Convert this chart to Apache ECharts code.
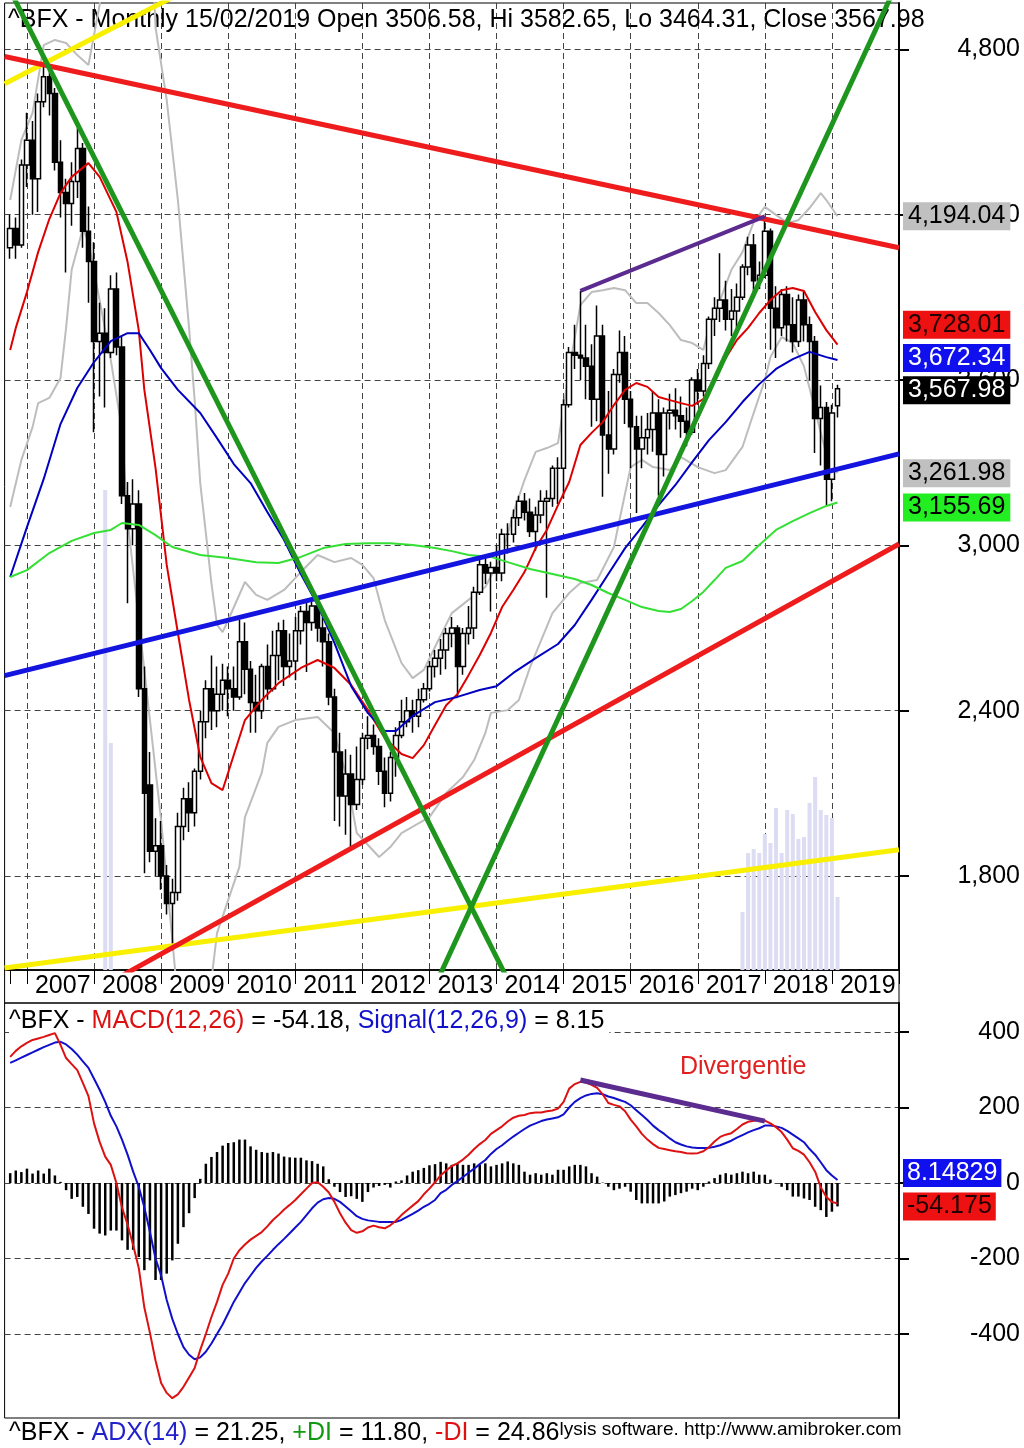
<!DOCTYPE html>
<html><head><meta charset="utf-8">
<script src="https://cdn.jsdelivr.net/npm/echarts@6/dist/echarts.min.js"></script>
<style>html,body{margin:0;padding:0;background:#fff}#c{width:1024px;height:1448px}</style>
</head><body><div id="c"></div>
<script>
// ---------- DATA (monthly, Oct 2006 .. Feb 2019; index m = months since Oct 2006) ----------
const opens = [4080,4150,4090,4380,4470,4330,4610,4700,4640,4390,
4280,4240,4320,4440,4140,4030,3740,3770,3700,3930,
3720,3180,3060,3150,2480,2130,1890,1910,1800,1700,
1740,1980,2080,2030,2180,2360,2480,2400,2460,2510,
2480,2450,2650,2550,2430,2400,2560,2480,2600,2690,
2560,2580,2690,2760,2720,2780,2700,2650,2450,2250,
2090,2170,2060,2150,2300,2310,2270,2180,2100,2230,
2310,2360,2400,2380,2440,2480,2560,2590,2620,2680,
2700,2560,2680,2700,2830,2930,2900,2920,2900,3040,
3040,3100,3160,3120,3050,3110,3160,3170,3280,3280,
3510,3700,3690,3680,3650,3530,3760,3400,3350,3620,
3700,3530,3430,3350,3390,3420,3480,3330,3480,3490,
3470,3450,3410,3600,3560,3660,3820,3860,3890,3820,
3850,3900,4010,4090,3960,3980,4140,3860,3790,3910,
3800,3740,3890,3800,3740,3460,3500,3240,3506.58];
const highs = [4200,4190,4400,4570,4540,4640,4755,4745,4660,4470,
4330,4390,4515,4460,4230,4100,3880,3860,3980,3990,
3760,3230,3240,3200,2560,2250,2010,2000,1840,1790,
2030,2120,2140,2190,2400,2510,2600,2560,2570,2560,
2560,2730,2720,2580,2530,2570,2640,2690,2720,2730,
2680,2740,2780,2800,2810,2810,2740,2680,2480,2320,
2260,2240,2270,2320,2380,2350,2300,2230,2250,2340,
2440,2450,2440,2480,2500,2580,2620,2660,2700,2740,
2710,2700,2780,2850,2950,2960,2940,3000,3060,3080,
3130,3180,3190,3170,3140,3200,3200,3290,3320,3530,
3720,3800,3923,3800,3730,3870,3800,3560,3640,3780,
3760,3560,3470,3470,3480,3560,3530,3500,3550,3570,
3540,3500,3610,3640,3690,3830,3900,4060,3960,3930,
3950,4020,4120,4130,4030,4194,4150,3940,3930,3940,
3900,3910,3920,3830,3760,3580,3520,3510,3582.65];
const lows = [4040,4040,4080,4300,4200,4210,4590,4560,4360,4190,
3990,4160,4260,4080,3880,3410,3540,3500,3680,3690,
3150,2790,3000,2450,1810,1850,1800,1750,1660,1531,
1710,1930,1960,1980,2150,2300,2330,2340,2400,2380,
2400,2440,2460,2320,2320,2370,2440,2470,2510,2490,
2520,2510,2640,2540,2690,2650,2560,2420,2000,1980,
1950,1905,2040,2130,2260,2240,2130,2050,2070,2160,
2300,2340,2320,2340,2430,2470,2520,2530,2550,2630,
2450,2530,2640,2660,2820,2860,2760,2870,2870,2970,
3010,3070,3090,3030,2980,3080,2810,3140,3150,3170,
3500,3640,3600,3530,3430,3450,3176,3260,3330,3590,
3440,3280,3117,3280,3330,3340,3180,3250,3420,3420,
3390,3360,3400,3510,3540,3640,3760,3810,3780,3760,
3790,3890,3980,3900,3930,3970,3710,3680,3760,3740,
3700,3720,3740,3600,3335,3290,3146,3160,3464.31];
const closes = [4150,4090,4380,4470,4330,4610,4700,4640,4390,4280,
4240,4320,4440,4140,4030,3740,3770,3700,3930,3720,
3180,3060,3150,2480,2100,1890,1910,1800,1700,1740,
1980,2080,2030,2180,2360,2480,2400,2460,2510,2480,
2450,2650,2550,2430,2400,2560,2480,2600,2690,2560,
2580,2690,2760,2720,2780,2700,2650,2450,2250,2090,
2170,2060,2150,2300,2310,2270,2180,2100,2230,2310,
2360,2400,2380,2440,2480,2560,2590,2620,2680,2700,
2560,2680,2700,2830,2930,2900,2920,2900,3040,3040,
3100,3160,3120,3050,3110,3160,3170,3280,3280,3510,
3700,3690,3680,3650,3530,3760,3400,3350,3620,3700,
3530,3430,3350,3390,3420,3480,3330,3480,3490,3470,
3450,3410,3600,3560,3660,3820,3860,3890,3820,3850,
3900,4010,4090,3960,3980,4140,3860,3790,3910,3800,
3740,3890,3800,3740,3460,3500,3240,3480,3567.98];

// moving averages / bands, read at sample months: [m, value]
const maRed = [[0,3709],[1,3789],[3,3919],[5,4064],[7,4184],[9,4278],[11,4337],[14,4387],[16,4337],[19,4210],[21,4028],[23,3781],[24,3564],[26,3281],[28,2929],[30,2682],[32,2439],[34,2232],[36,2137],[38,2112],[40,2239],[42,2366],[45,2439],[48,2500],[52,2555],[55,2584],[58,2555],[61,2493],[64,2402],[67,2301],[70,2243],[72,2228],[74,2275],[76,2348],[78,2420],[80,2460],[82,2529],[84,2602],[86,2682],[88,2776],[90,2838],[92,2903],[94,2990],[96,3056],[98,3146],[100,3230],[102,3364],[104,3408],[106,3447],[108,3509],[110,3564],[112,3589],[114,3575],[116,3538],[118,3527],[120,3516],[122,3506],[124,3531],[126,3607],[128,3680],[130,3745],[132,3789],[134,3843],[136,3890],[138,3926],[140,3934],[142,3923],[144,3847],[146,3781],[148,3728.01]];
const maBlue = [[0,2885],[3,3066],[6,3241],[9,3440],[12,3571],[15,3665],[18,3741],[21,3770],[23,3770],[25,3709],[27,3643],[30,3564],[34,3480],[37,3389],[40,3295],[43,3226],[46,3121],[49,3019],[52,2896],[55,2783],[58,2646],[61,2489],[64,2391],[67,2326],[69,2326],[72,2381],[76,2431],[80,2450],[84,2475],[87,2489],[90,2537],[94,2591],[98,2642],[101,2711],[104,2802],[107,2896],[110,2990],[113,3066],[116,3146],[119,3219],[122,3302],[125,3382],[128,3447],[131,3520],[134,3585],[137,3640],[140,3676],[143,3702],[146,3683],[148,3672.34]];
const maGreen = [[0,2885],[3,2910],[7,2972],[11,3016],[15,3045],[18,3056],[20,3081],[23,3074],[26,3037],[29,2994],[34,2965],[39,2954],[44,2939],[48,2936],[52,2958],[56,2990],[60,3005],[64,3008],[68,3008],[72,3001],[76,2990],[79,2979],[82,2965],[86,2958],[89,2939],[93,2914],[97,2896],[101,2878],[104,2856],[107,2827],[110,2802],[113,2776],[116,2762],[118,2758],[120,2769],[122,2798],[124,2831],[126,2874],[128,2918],[131,2943],[134,3001],[137,3056],[140,3088],[143,3117],[146,3143],[148,3155.69]];
const bbUpper = [[0,4253],[2,4471],[4,4569],[6,4815],[8,4834],[10,4823],[12,4779],[14,4743],[16,4961],[17,5124],[19,5450],[21,5700],[23,5700],[25,5350],[26,4880],[28,4616],[30,4253],[32,3789],[33,3527],[34,3226],[35,3045],[36,2863],[37,2711],[38,2685],[39,2729],[42,2867],[44,2820],[46,2802],[49,2838],[52,2903],[55,2965],[58,2939],[61,2954],[63,2929],[65,2881],[67,2729],[70,2573],[72,2518],[74,2548],[76,2631],[79,2754],[82,2802],[85,2849],[88,2965],[90,3117],[92,3237],[94,3339],[96,3353],[98,3371],[100,3636],[102,3872],[104,3919],[106,3926],[108,3934],[110,3926],[112,3879],[114,3879],[116,3843],[118,3799],[120,3745],[122,3734],[124,3709],[125,3792],[127,3890],[129,3999],[131,4064],[133,4173],[135,4228],[137,4199],[139,4170],[141,4180],[143,4224],[145,4278],[146,4253],[148,4194.04]];
const bbLower = [[0,3139],[2,3310],[4,3429],[5,3516],[7,3535],[9,3607],[10,3789],[11,4000],[13,4150],[14,4100],[16,3890],[18,3672],[20,3418],[21,3092],[23,2729],[25,2366],[27,2003],[29,1568],[30,1350],[32,1150],[34,1200],[36,1423],[37,1593],[41,1833],[42,2014],[45,2174],[46,2283],[48,2341],[51,2366],[55,2377],[58,2319],[60,2174],[62,1956],[66,1869],[68,1905],[70,1956],[75,2014],[78,2101],[81,2159],[83,2221],[85,2319],[86,2392],[89,2402],[91,2439],[93,2558],[95,2656],[97,2754],[100,2827],[102,2863],[105,2874],[108,2994],[109,3092],[111,3284],[113,3310],[115,3284],[118,3273],[120,3320],[123,3284],[126,3262],[128,3273],[131,3357],[133,3480],[135,3600],[136,3683],[138,3756],[140,3734],[142,3650],[144,3490],[146,3330],[148,3261.98]];

// volume (only visible months), [month label, volume]
const volume = [['2008-03',480],['2008-04',227],['2017-09',58],['2017-10',117],['2017-11',121],['2017-12',117],['2018-01',136],['2018-02',127],['2018-03',162],['2018-04',117],['2018-05',160],['2018-06',156],['2018-07',131],['2018-08',133],['2018-09',167],['2018-10',193],['2018-11',160],['2018-12',155],['2019-01',152],['2019-02',73]];

// MACD(12,26), Signal(12,26,9), histogram
const macd = [334,350,362,371,379,383,387,392,397,366,
331,315,299,265,230,158,109,70,48,0,
-65,-110,-165,-225,-330,-397,-470,-530,-556,-570,
-560,-540,-515,-490,-442,-400,-355,-315,-270,-240,
-200,-178,-163,-150,-140,-130,-115,-98,-85,-70,
-58,-45,-30,-15,0,2,-10,-25,-50,-80,
-105,-125,-132,-128,-118,-113,-117,-120,-112,-100,
-85,-72,-60,-48,-30,-15,2,20,33,45,
52,62,75,90,103,114,130,140,150,163,
173,178,180,185,187,187,190,192,197,215,
250,262,268,266,260,252,235,212,207,203,
190,168,150,130,115,103,93,90,87,84,
82,79,78,79,84,95,110,122,128,132,
143,155,162,165,167,165,158,148,135,115,
92,85,75,55,30,-11,-37,-50,-54.18];
const signal = [318,325,332,339,346,353,360,366,372,374,
367,355,340,322,305,276,247,215,178,150,
115,75,30,-10,-65,-130,-200,-245,-310,-360,
-400,-435,-455,-467,-462,-447,-425,-400,-375,-345,
-315,-290,-265,-245,-225,-208,-193,-177,-162,-148,
-133,-118,-103,-85,-67,-52,-43,-40,-42,-50,
-62,-75,-88,-95,-99,-101,-103,-103,-103,-103,
-98,-90,-82,-73,-63,-55,-45,-27,-18,-5,
5,16,27,38,50,61,77,90,100,112,
123,133,143,152,158,164,168,171,174,182,
200,215,225,232,236,238,235,229,225,220,
215,206,193,180,167,152,140,130,118,108,
102,97,94,93,93,93,96,100,106,112,
120,127,134,140,145,152,152,150,146,138,
128,118,108,90,75,55,34,20,8.15];
const hist = [26,33,29,38,25,33,25,38,20,3,
-19,-42,-37,-63,-82,-121,-134,-139,-126,-126,
-152,-177,-177,-196,-231,-205,-257,-257,-240,-205,
-161,-117,-80,-40,11,51,69,82,99,106,
108,115,115,97,88,82,80,82,78,70,
68,67,67,60,58,51,44,10,-10,-24,
-37,-35,-42,-50,-24,-12,-8,-5,-12,4,
7,20,30,34,40,47,50,56,52,48,
52,48,48,52,48,52,44,48,52,57,
52,48,30,22,26,22,26,22,35,35,
44,48,48,44,26,17,1,-10,-19,-15,
-10,-23,-45,-54,-54,-54,-54,-49,-36,-32,
-27,-23,-15,-19,-10,4,13,22,26,22,
26,30,26,30,22,22,9,0,-10,-19,
-36,-36,-41,-45,-63,-72,-90,-76,-62];

// hand-drawn trend lines: two anchor points [category index, value]
const tlRedTop = [[0,4774],[160,4080]];
const tlRedBottom = [[20,1427],[160,3005]];
const tlYellowBottom = [[0,1466],[160,1895]];
const tlYellowTop = [[0,4675],[40,5093]];
const tlGreenDown = [[0,5054],[95,1223]];
const tlGreenUp = [[74,1270],[160,5055]];
const tlBlue = [[0,2527],[160,3332]];
const tlPurplePrice = [[103,3923],[136,4194]];
const tlPurpleMacd = [[103,273],[136,164]];

const yearLabels = ['2007','2008','2009','2010','2011','2012','2013','2014','2015','2016','2017','2018','2019'];
const priceTicks = [1800,2400,3000,3600,4200,4800];
const macdTicks = [-400,-200,0,200,400];

// ---------- BUILD ----------
const cats = [];
for (let i = 0; i < 161; i++) { const t = 8 + i; cats.push((2006 + Math.floor(t / 12)) + '-' + String(t % 12 + 1).padStart(2, '0')); }
const L = m => cats[m + 1];
const isJan = v => v.slice(5) === '01';
const pairs = arr => arr.map(p => [L(p[0]), p[1]]);
const candle = ['-'].concat(opens.map((o, i) => [o, closes[i], lows[i], highs[i]]));
const pad = arr => ['-'].concat(arr);

const FONT = 'Liberation Sans, Arial, Helvetica, sans-serif';
const GRID_DASH = {type: [6, 4], color: '#444', width: 1};
const rs = (c, size) => ({fontFamily: FONT, fontSize: size || 25, fontWeight: 'normal', color: c});

function tl(data, color, width, z) {
  return {type: 'line', xAxisIndex: 0, yAxisIndex: 0, data: data, symbol: 'none', silent: true,
    lineStyle: {color: color, width: width}, z: z || 6, clip: true, animation: false};
}
function tag(value, text, bg, fg, dy) {
  return {yAxis: value, label: {formatter: text, backgroundColor: bg, color: fg, offset: [0, dy || 0]}};
}

const option = {
  animation: false,
  backgroundColor: '#fff',
  textStyle: {fontFamily: FONT},
  title: [
    {text: '^BFX - Monthly 15/02/2019 Open 3506.58, Hi 3582.65, Lo 3464.31, Close 3567.98', left: 8, top: 8, padding: 0, z: 1,
      textStyle: rs('#000')},
    {text: '{k|^BFX - }{r|MACD(12,26)}{k| = -54.18, }{b|Signal(12,26,9)}{k| = 8.15}', left: 9, top: 1009, padding: [0, 5, 0, 0], backgroundColor: '#fff', z: 1,
      textStyle: Object.assign(rs('#000'), {rich: {k: rs('#000'), r: rs('#dd1111'), b: rs('#1111cc')}})},
    {text: '{k|^BFX - }{b|ADX(14)}{k| = 21.25, }{g|+DI}{k| = 11.80, }{r|-DI}{k| = 24.86}{s|lysis software. http://www.amibroker.com}', left: 9, top: 1420, padding: 0, z: 1,
      textStyle: Object.assign(rs('#000'), {rich: {k: rs('#000'), b: rs('#2222cc'), g: rs('#119911'), r: rs('#dd1111'),
        s: Object.assign(rs('#000', 19), {verticalAlign: 'top', padding: [0, 0, 8, 0]})}})}
  ],
  grid: [
    {left: 4.6, top: 3, width: 894.4, height: 967, show: true, borderColor: '#000', borderWidth: 1},
    {left: 4.6, top: 1003, width: 894.4, height: 415, show: true, borderColor: '#000', borderWidth: 1}
  ],
  xAxis: [
    {type: 'category', gridIndex: 0, data: cats, boundaryGap: false,
      axisLine: {show: true, lineStyle: {color: '#000', width: 1.5}},
      axisTick: {show: true, length: 14, interval: (i, v) => isJan(v) || v === '2006-10', lineStyle: {color: '#000', width: 1}},
      axisLabel: {interval: (i, v) => isJan(v) && yearLabels.indexOf(v.slice(0, 4)) >= 0, formatter: v => v.slice(0, 4),
        align: 'left', padding: [0, 0, 0, 8], margin: 4, fontSize: 25, color: '#000', fontFamily: FONT},
      splitLine: {show: true, interval: (i, v) => isJan(v), lineStyle: GRID_DASH}},
    {type: 'category', gridIndex: 1, data: cats, boundaryGap: false,
      axisLine: {show: false}, axisTick: {show: false}, axisLabel: {show: false}, splitLine: {show: false}}
  ],
  yAxis: [
    {type: 'value', gridIndex: 0, position: 'right', min: 1459, max: 4968,
      axisLine: {show: true, lineStyle: {color: '#000', width: 2}},
      axisTick: {show: true, length: 10, customValues: priceTicks, lineStyle: {color: '#000', width: 2}},
      axisLabel: {customValues: priceTicks, formatter: v => Number(v).toLocaleString('en-US'), fontSize: 25, color: '#000', align: 'right', margin: 121, fontFamily: FONT},
      splitLine: {show: true, lineStyle: GRID_DASH}},
    {type: 'value', gridIndex: 0, min: 0, max: 967, show: false},
    {type: 'value', gridIndex: 1, position: 'right', min: -622.5, max: 476.8,
      axisLine: {show: true, lineStyle: {color: '#000', width: 2}},
      axisTick: {show: true, length: 10, customValues: macdTicks, lineStyle: {color: '#000', width: 2}},
      axisLabel: {customValues: macdTicks, fontSize: 25, color: '#000', align: 'right', margin: 121, fontFamily: FONT},
      splitLine: {show: true, lineStyle: GRID_DASH}}
  ],
  graphic: [
    {type: 'rect', shape: {x: 4.6, y: 970, width: 894.4, height: 33}, style: {fill: 'none', stroke: '#000', lineWidth: 1}, silent: true},
    {type: 'text', left: 680, top: 1055, style: {text: 'Divergentie', fill: '#e02020', font: '25px ' + FONT}, silent: true}
  ],
  series: [
    {name: 'Volume', type: 'bar', xAxisIndex: 0, yAxisIndex: 1, data: volume, barWidth: 4, itemStyle: {color: '#dcdcf3'}, silent: true, z: 1},
    {name: 'BB upper', type: 'line', xAxisIndex: 0, yAxisIndex: 0, data: pairs(bbUpper), symbol: 'none', lineStyle: {color: '#bdbdbd', width: 2}, z: 2, silent: true},
    {name: 'BB lower', type: 'line', xAxisIndex: 0, yAxisIndex: 0, data: pairs(bbLower), symbol: 'none', lineStyle: {color: '#bdbdbd', width: 2}, z: 2, silent: true},
    {name: 'Price', type: 'candlestick', xAxisIndex: 0, yAxisIndex: 0, data: candle, barWidth: 5, z: 3,
      itemStyle: {color: '#ffffff', color0: '#000000', borderColor: '#000000', borderColor0: '#000000', borderWidth: 1.5},
      markLine: {silent: true, symbol: ['none', 'none'], lineStyle: {color: 'rgba(0,0,0,0)', width: 0},
        label: {position: 'end', distance: 4, fontSize: 25, fontFamily: FONT, padding: [2, 5, 1, 5]},
        data: [tag(4194.04, '4,194.04', '#c0c0c0', '#000'), tag(3728.01, '3,728.01', '#ee1111', '#200000', -20),
          tag(3672.34, '3,672.34', '#1010ee', '#fff', -2), tag(3567.98, '3,567.98', '#000', '#fff', 1.5),
          tag(3261.98, '3,261.98', '#c0c0c0', '#000'), tag(3155.69, '3,155.69', '#22ee22', '#000', 5)]}},
    {name: 'MA red', type: 'line', xAxisIndex: 0, yAxisIndex: 0, data: pairs(maRed), symbol: 'none', lineStyle: {color: '#dd0000', width: 2}, z: 4, silent: true},
    {name: 'MA blue', type: 'line', xAxisIndex: 0, yAxisIndex: 0, data: pairs(maBlue), symbol: 'none', lineStyle: {color: '#0000c0', width: 2}, z: 4, silent: true},
    {name: 'MA green', type: 'line', xAxisIndex: 0, yAxisIndex: 0, data: pairs(maGreen), symbol: 'none', lineStyle: {color: '#33e033', width: 2}, z: 4, silent: true},
    tl(tlYellowBottom, '#f8f000', 5), tl(tlYellowTop, '#f8f000', 5),
    tl(tlRedTop, '#ee1c1c', 5), tl(tlRedBottom, '#ee1c1c', 5),
    tl(tlBlue, '#1414e0', 5),
    tl(tlGreenDown, '#1e961e', 5), tl(tlGreenUp, '#1e961e', 5),
    tl(tlPurplePrice, '#5b2b8f', 4),
    {name: 'Hist', type: 'bar', xAxisIndex: 1, yAxisIndex: 2, data: pad(hist), barWidth: 2.5, itemStyle: {color: '#000'}, silent: true, z: 2},
    {name: 'MACD', type: 'line', xAxisIndex: 1, yAxisIndex: 2, data: pad(macd), symbol: 'none', lineStyle: {color: '#dd1111', width: 2}, z: 4, silent: true,
      markLine: {silent: true, symbol: ['none', 'none'], lineStyle: {color: 'rgba(0,0,0,0)', width: 0},
        label: {position: 'end', distance: 4, fontSize: 25, fontFamily: FONT, padding: [2, 4, 1, 4]},
        data: [tag(8.14829, '8.14829', '#1010ee', '#fff', -7), tag(-54.175, '-54.175', '#ee1111', '#200000', 3)]}},
    {name: 'Signal', type: 'line', xAxisIndex: 1, yAxisIndex: 2, data: pad(signal), symbol: 'none', lineStyle: {color: '#1010cc', width: 2}, z: 3, silent: true},
    {type: 'line', xAxisIndex: 1, yAxisIndex: 2, data: tlPurpleMacd, symbol: 'none', silent: true, lineStyle: {color: '#5b2b8f', width: 5}, z: 6}
  ]
};
const chart = echarts.init(document.getElementById('c'));
chart.setOption(option);
</script></body></html>
